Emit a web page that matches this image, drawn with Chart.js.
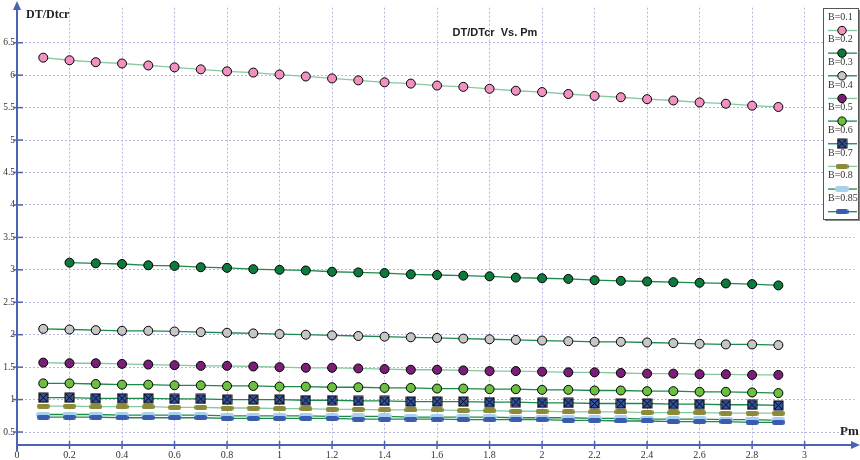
<!DOCTYPE html>
<html>
<head>
<meta charset="utf-8">
<script src="https://cdn.jsdelivr.net/npm/chart.js@4/dist/chart.umd.min.js"></script>
<style>
  html, body { margin: 0; padding: 0; background: #fff; }
</style>
</head>
<body>
<canvas id="chart" width="860" height="460"></canvas>
<script>
// Pm values (x axis)
const pm = [0.1, 0.2, 0.3, 0.4, 0.5, 0.6, 0.7, 0.8, 0.9, 1.0,
            1.1, 1.2, 1.3, 1.4, 1.5, 1.6, 1.7, 1.8, 1.9, 2.0,
            2.1, 2.2, 2.3, 2.4, 2.5, 2.6, 2.7, 2.8, 2.9];

// DT/Dtcr for each B
const b01 = [6.27, 6.23, 6.20, 6.18, 6.15, 6.12, 6.09, 6.06, 6.04, 6.01,
             5.98, 5.95, 5.92, 5.89, 5.87, 5.84, 5.82, 5.79, 5.76, 5.74,
             5.71, 5.68, 5.66, 5.63, 5.61, 5.58, 5.56, 5.53, 5.51];
const b02 = [null, 3.11, 3.10, 3.09, 3.07, 3.06, 3.04, 3.03, 3.01, 3.00,
             2.99, 2.97, 2.96, 2.95, 2.93, 2.92, 2.91, 2.90, 2.88, 2.87,
             2.86, 2.84, 2.83, 2.82, 2.81, 2.80, 2.79, 2.78, 2.76];
const b03 = [2.09, 2.08, 2.07, 2.06, 2.06, 2.05, 2.04, 2.03, 2.02, 2.01,
             2.00, 1.99, 1.98, 1.97, 1.96, 1.95, 1.94, 1.93, 1.92, 1.91,
             1.90, 1.89, 1.89, 1.88, 1.87, 1.86, 1.85, 1.85, 1.84];
const b04 = [1.57, 1.56, 1.56, 1.55, 1.54, 1.53, 1.52, 1.52, 1.51, 1.50,
             1.49, 1.49, 1.48, 1.47, 1.46, 1.46, 1.45, 1.44, 1.44, 1.43,
             1.42, 1.42, 1.41, 1.40, 1.40, 1.39, 1.39, 1.38, 1.38];
const b05 = [1.25, 1.25, 1.24, 1.23, 1.23, 1.22, 1.22, 1.21, 1.21, 1.20,
             1.20, 1.19, 1.19, 1.18, 1.18, 1.17, 1.17, 1.16, 1.16, 1.15,
             1.15, 1.14, 1.14, 1.13, 1.13, 1.12, 1.12, 1.11, 1.10];
const b06 = [1.03, 1.03, 1.02, 1.02, 1.02, 1.01, 1.01, 1.00, 1.00, 1.00,
             0.99, 0.99, 0.98, 0.98, 0.97, 0.97, 0.97, 0.96, 0.96, 0.95,
             0.95, 0.94, 0.94, 0.94, 0.93, 0.93, 0.92, 0.92, 0.91];
const b07 = [0.90, 0.90, 0.89, 0.89, 0.89, 0.88, 0.88, 0.87, 0.87, 0.86,
             0.86, 0.85, 0.85, 0.84, 0.84, 0.84, 0.83, 0.83, 0.82, 0.82,
             0.81, 0.81, 0.81, 0.80, 0.80, 0.80, 0.79, 0.79, 0.79];
const b08 = [0.77, 0.77, 0.77, 0.76, 0.76, 0.76, 0.76, 0.75, 0.75, 0.75,
             0.75, 0.74, 0.74, 0.74, 0.73, 0.73, 0.73, 0.73, 0.72, 0.72,
             0.72, 0.71, 0.71, 0.70, 0.70, 0.70, 0.69, 0.69, 0.68];
const b085 = [0.73, 0.73, 0.73, 0.72, 0.72, 0.72, 0.72, 0.71, 0.71, 0.71,
              0.71, 0.71, 0.70, 0.70, 0.70, 0.70, 0.69, 0.69, 0.69, 0.69,
              0.68, 0.68, 0.67, 0.67, 0.66, 0.66, 0.66, 0.65, 0.65];

const seriesLabels = ['B=0.1', 'B=0.2', 'B=0.3', 'B=0.4', 'B=0.5', 'B=0.6', 'B=0.7', 'B=0.8', 'B=0.85'];
const xTicks = [0, 0.2, 0.4, 0.6, 0.8, 1, 1.2, 1.4, 1.6, 1.8, 2, 2.2, 2.4, 2.6, 2.8, 3];
const yTicks = [0.5, 1, 1.5, 2, 2.5, 3, 3.5, 4, 4.5, 5, 5.5, 6, 6.5];

const darkLine = '#1d8a4a';
const lightLine = '#86c8a0';

// little canvases used as point markers
function squareX(fill) {
    let c = document.createElement('canvas');
    c.width = 11; c.height = 11;
    let g = c.getContext('2d');
    g.fillStyle = fill;
    g.fillRect(1, 1, 9, 9);
    g.strokeStyle = '#000';
    g.lineWidth = 1;
    g.strokeRect(1, 1, 9, 9);
    g.beginPath();
    g.moveTo(1.5, 1.5); g.lineTo(9.5, 9.5);
    g.moveTo(9.5, 1.5); g.lineTo(1.5, 9.5);
    g.stroke();
    return c;
}
function pill(fill, w, h) {
    let c = document.createElement('canvas');
    c.width = w; c.height = h;
    let g = c.getContext('2d');
    g.fillStyle = fill;
    g.beginPath();
    g.roundRect(0, 0, w, h, h / 2);
    g.fill();
    return c;
}

const styles = [
    { data: b01, fill: '#f290c0', line: lightLine, point: 'circle' },
    { data: b02, fill: '#0b7a3c', line: darkLine, point: 'circle' },
    { data: b03, fill: '#c6c6c6', line: darkLine, point: 'circle' },
    { data: b04, fill: '#7a1e78', line: lightLine, point: 'circle' },
    { data: b05, fill: '#6cc040', line: darkLine, point: 'circle' },
    { data: b06, fill: '#3454a4', line: darkLine, point: squareX('#3454a4') },
    { data: b07, fill: '#8a8a38', line: lightLine, point: pill('#8a8a38', 13, 5) },
    { data: b08, fill: '#a8d0ec', line: darkLine, point: pill('#a8d0ec', 14, 6) },
    { data: b085, fill: '#3a5cb0', line: darkLine, point: pill('#3a5cb0', 13, 5) }
];

const datasets = styles.map((s, i) => ({
    label: seriesLabels[i],
    data: pm.map((x, j) => ({ x: x, y: s.data[j] })),
    borderColor: s.line,
    borderWidth: 1.3,
    pointStyle: s.point,
    pointRadius: 4.5,
    pointBackgroundColor: s.fill,
    pointBorderColor: '#000',
    pointBorderWidth: 1,
    spanGaps: false,
    order: 9 - i
}));

const axisColor = '#4a64b0';

// axes with arrows, titles and the boxed legend
const decorations = {
    id: 'decorations',
    afterDraw(chart) {
        const ctx = chart.ctx;
        const xs = chart.scales.x, ys = chart.scales.y;
        const x0 = xs.left, y0 = ys.bottom;
        ctx.save();
        ctx.strokeStyle = axisColor;
        ctx.fillStyle = axisColor;
        ctx.lineWidth = 2;
        // y axis
        ctx.beginPath();
        ctx.moveTo(x0, y0 + 6);
        ctx.lineTo(x0, 8);
        ctx.stroke();
        ctx.beginPath();
        ctx.moveTo(x0, 1); ctx.lineTo(x0 - 4, 10); ctx.lineTo(x0 + 4, 10); ctx.closePath();
        ctx.fill();
        // x axis
        ctx.beginPath();
        ctx.moveTo(x0, y0);
        ctx.lineTo(852, y0);
        ctx.stroke();
        ctx.beginPath();
        ctx.moveTo(860, y0); ctx.lineTo(851, y0 - 4); ctx.lineTo(851, y0 + 4); ctx.closePath();
        ctx.fill();
        // tick marks
        ctx.lineWidth = 1.5;
        yTicks.forEach(v => {
            const y = ys.getPixelForValue(v);
            ctx.beginPath(); ctx.moveTo(x0 - 4, y); ctx.lineTo(x0 + 6, y); ctx.stroke();
        });
        xTicks.forEach(v => {
            if (v === 0) return;
            const x = xs.getPixelForValue(v);
            ctx.beginPath(); ctx.moveTo(x, y0 - 4); ctx.lineTo(x, y0 + 4); ctx.stroke();
        });

        // titles
        ctx.fillStyle = '#222';
        ctx.textBaseline = 'middle';
        ctx.textAlign = 'center';
        ctx.font = 'bold 11px "Liberation Sans"';
        ctx.fillText('DT/DTcr  Vs. Pm', 495, 33);
        ctx.textAlign = 'left';
        ctx.font = 'bold 12px "Liberation Serif"';
        ctx.fillText('DT/Dtcr', 26, 15);
        ctx.font = 'bold 13px "Liberation Serif"';
        ctx.fillText('Pm', 840, 432);

        // legend box
        const lx = 823, ly = 8, lw = 35, lh = 211;
        ctx.fillStyle = '#888';
        ctx.fillRect(lx + 2, ly + 2, lw, lh);
        ctx.fillStyle = '#fff';
        ctx.fillRect(lx, ly, lw, lh);
        ctx.strokeStyle = '#555';
        ctx.lineWidth = 1;
        ctx.strokeRect(lx + 0.5, ly + 0.5, lw, lh);
        styles.forEach((s, i) => {
            const ty = 17 + i * 22.65;
            const my = ty + 13.5;
            ctx.fillStyle = '#333';
            ctx.font = '10px "Liberation Serif"';
            ctx.textAlign = 'left';
            ctx.fillText(seriesLabels[i], 828, ty);
            ctx.strokeStyle = s.line;
            ctx.lineWidth = 1.3;
            ctx.beginPath(); ctx.moveTo(828, my); ctx.lineTo(857, my); ctx.stroke();
            if (s.point === 'circle') {
                ctx.fillStyle = s.fill;
                ctx.strokeStyle = '#000';
                ctx.lineWidth = 1;
                ctx.beginPath(); ctx.arc(842, my, 4.2, 0, Math.PI * 2); ctx.fill(); ctx.stroke();
            } else {
                ctx.drawImage(s.point, 842 - s.point.width / 2, my - s.point.height / 2);
            }
        });
        ctx.restore();
    }
};

new Chart(document.getElementById('chart'), {
    type: 'line',
    data: { datasets: datasets },
    options: {
        responsive: false,
        animation: false,
        devicePixelRatio: 1,
        layout: { padding: { top: 5, right: 2, left: 0, bottom: 0 } },
        plugins: { legend: { display: false }, tooltip: { enabled: false } },
        scales: {
            x: {
                type: 'linear',
                min: 0,
                max: 3.19,
                afterBuildTicks: s => { s.ticks = xTicks.map(v => ({ value: v })); },
                afterFit: s => { s.height = 15; },
                ticks: { font: { family: 'Liberation Serif', size: 10 }, color: '#333', padding: 4,
                         maxRotation: 0, autoSkip: false, callback: v => String(v) },
                grid: { color: '#b8b8e2', lineWidth: 1, drawTicks: false },
                border: { display: false, dash: [2, 2] }
            },
            y: {
                type: 'linear',
                min: 0.3,
                max: 7.04,
                afterBuildTicks: s => { s.ticks = yTicks.map(v => ({ value: v })); },
                afterFit: s => { s.width = 17; },
                ticks: { font: { family: 'Liberation Serif', size: 9.5 }, color: '#333', padding: 2,
                         autoSkip: false, callback: v => String(v) },
                grid: { color: '#b8b8e2', lineWidth: 1, drawTicks: false },
                border: { display: false, dash: [2, 2] }
            }
        }
    },
    plugins: [decorations]
});
</script>
</body>
</html>
